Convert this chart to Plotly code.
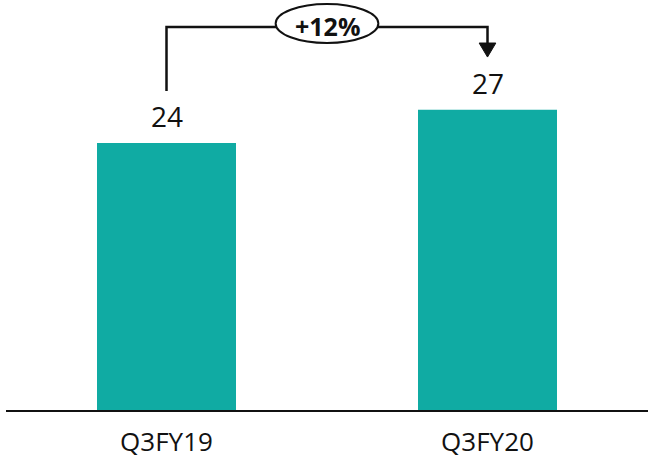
import plotly.graph_objects as go

# Quarterly values
quarters = ["Q3FY19", "Q3FY20"]
values = [24, 27]
growth_label = "+12%"

bar_color = "#10ABA3"
ink = "#111111"
x_pos = list(range(len(quarters)))

fig = go.Figure()
fig.add_trace(go.Bar(
    x=x_pos,
    y=values,
    width=0.433,
    marker=dict(color=bar_color, line=dict(width=0)),
    hoverinfo="skip",
))

# Value labels above the bars
for xi, v in zip(x_pos, values):
    fig.add_annotation(x=xi, y=v, xref="x", yref="y", text=str(v),
                       showarrow=False, yanchor="bottom", yshift=6,
                       font=dict(family="Open Sans", size=28, color=ink))

# Growth connector: bracket from first bar to arrow over second bar
y_top = max(values) * 1.2756
y_left_end = values[0] + 4.69
y_arrow_tip = values[1] + 4.74
y_arrow_base = y_arrow_tip + 1.26
x0, x1 = x_pos[0], x_pos[1]

fig.add_shape(type="path",
              path=f"M {x0} {y_left_end} L {x0} {y_top} L {x1} {y_top} L {x1} {y_arrow_base}",
              xref="x", yref="y", line=dict(color=ink, width=2.5))
fig.add_shape(type="path",
              path=f"M {x1-0.026} {y_arrow_base} L {x1+0.026} {y_arrow_base} L {x1} {y_arrow_tip} Z",
              xref="x", yref="y", fillcolor=ink, line=dict(color=ink, width=1))
xm = (x0 + x1) / 2
fig.add_shape(type="circle", xref="x", yref="y",
              x0=xm - 0.16, x1=xm + 0.16, y0=y_top - 1.44, y1=y_top + 2.07,
              fillcolor="white", line=dict(color=ink, width=2))
fig.add_annotation(x=xm, y=y_top + 0.1, xref="x", yref="y", text=f"<b>{growth_label}</b>",
                   showarrow=False, font=dict(family="Open Sans", size=25, color=ink))

fig.update_layout(
    width=648, height=461,
    margin=dict(l=6, r=0, t=0, b=51),
    paper_bgcolor="white", plot_bgcolor="white",
    showlegend=False,
    xaxis=dict(
        range=[-0.5, 1.5],
        tickmode="array", tickvals=x_pos, ticktext=quarters,
        showgrid=False, zeroline=False,
        showline=True, linecolor=ink, linewidth=2,
        ticks="", ticklabelstandoff=8,
        tickfont=dict(family="Open Sans", size=26, color=ink),
        fixedrange=True,
    ),
    yaxis=dict(range=[0, 36.87], visible=False, fixedrange=True),
)

fig.write_html("out.html")
